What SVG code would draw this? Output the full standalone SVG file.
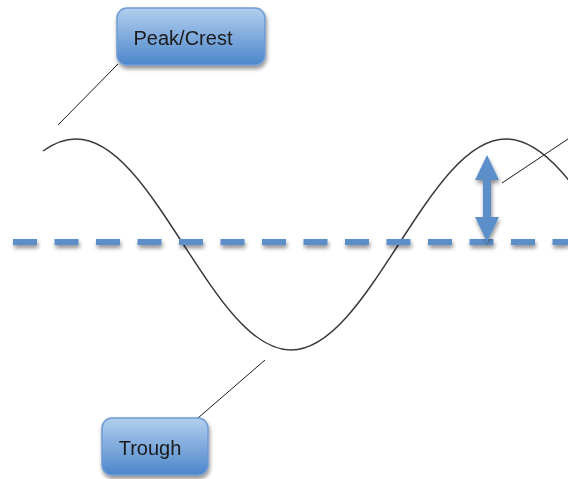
<svg xmlns="http://www.w3.org/2000/svg" width="568" height="479" viewBox="0 0 568 479">
<style>
.lead{stroke:#1a1a1a;stroke-width:1;fill:none}
.lbl{font-family:"Liberation Sans",Arial,sans-serif;font-size:20px;fill:#1a1a1a;text-anchor:middle}
.box{fill:url(#g);stroke:#6f9bd4;stroke-width:1.5}
</style>
<defs>
<linearGradient id="g" x1="0" y1="0" x2="0" y2="1">
<stop offset="0" stop-color="#b3cfee"/>
<stop offset="1" stop-color="#4c86cb"/>
</linearGradient>
<filter id="sh" filterUnits="userSpaceOnUse" x="0" y="0" width="568" height="479">
<feGaussianBlur in="SourceAlpha" stdDeviation="2"/>
<feOffset dx="1" dy="3" result="b"/>
<feComponentTransfer><feFuncA type="linear" slope="0.45"/></feComponentTransfer>
<feMerge><feMergeNode/><feMergeNode in="SourceGraphic"/></feMerge>
</filter>
</defs>
<g id="connectors">
<line class="lead" x1="58" y1="125" x2="118" y2="64"/>
<line class="lead" x1="265" y1="360" x2="198" y2="418"/>
<line class="lead" x1="502" y1="183" x2="568" y2="139"/>
</g>
<g id="wave">
<path d="M43,151 Q59.5,139 76,139 C115.07,139 148.44,190.45 183.5,244.5 S251.92,350 291,350 C329.93,350 363.44,298.55 398.5,244.5 S466.93,139 506,139 C545.07,139 578.44,190.45 613.5,244.5" fill="none" stroke="#3a3a3a" stroke-width="1.5"/>
</g>
<g id="midline" filter="url(#sh)">
<line x1="13" y1="242" x2="568" y2="242" stroke="#5b8fc9" stroke-width="6" stroke-dasharray="24 17.5"/>
</g>
<g id="amplitude-arrow" filter="url(#sh)" fill="#5b8fc9">
<rect x="483" y="176" width="8" height="45"/>
<polygon points="487,155 475,180 499,180"/>
<polygon points="487,242 475,217 499,217"/>
</g>
<g id="peak" filter="url(#sh)">
<rect class="box" x="117" y="8" width="148" height="57" rx="10"/>
<text class="lbl" x="183" y="45">Peak/Crest</text>
</g>
<g id="trough" filter="url(#sh)">
<rect class="box" x="102" y="418" width="106" height="57" rx="10"/>
<text class="lbl" x="150" y="455">Trough</text>
</g>
</svg>
